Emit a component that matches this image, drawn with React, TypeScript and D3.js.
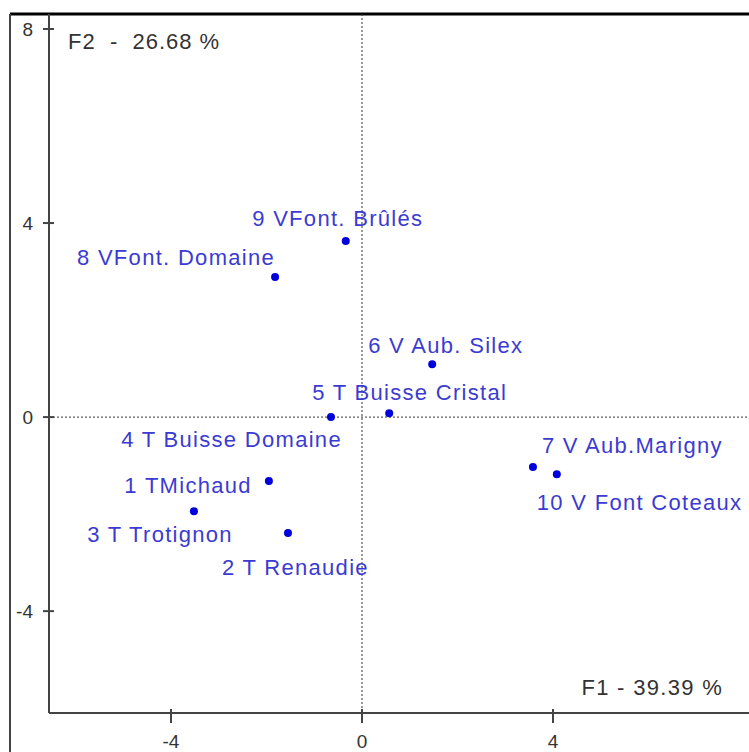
import React from 'react';
import * as d3 from 'd3';

// observations (PCA scores)
const names = [
  '1 TMichaud', '2 T Renaudie', '3 T Trotignon', '4 T Buisse Domaine', '5 T Buisse Cristal',
  '6 V Aub. Silex', '7 V Aub.Marigny', '8 VFont. Domaine', '9 VFont. Brûlés', '10 V Font Coteaux',
];
const f1 = [-1.95, -1.55, -3.52, -0.65, 0.57, 1.47, 3.58, -1.82, -0.34, 4.08];
const f2 = [-1.32, -2.39, -1.94, 0.0, 0.08, 1.09, -1.03, 2.89, 3.63, -1.18];

const xTicks = [-4, 0, 4];
const yTicks = [-4, 0, 4, 8];

const xTitle = 'F1 - 39.39 %';
const yTitle = 'F2  -  26.68 %';

// label placement relative to each point: [anchor, dx, dy]
const labelPlace: [string, number, number][] = [
  ['end', -17, 12],
  ['start', -66, 42],
  ['end', 39, 31],
  ['end', 11, 30],
  ['start', -77, -13],
  ['start', -64, -11],
  ['start', 9, -14],
  ['end', 0, -12],
  ['middle', -8, -15],
  ['start', -20, 36],
];

const App = () => {
  const width = 749;
  const height = 752;
  const left = 49;
  const top = 14;
  const bottom = 713;
  const right = 749;

  const xScale = d3.scaleLinear().domain([-6.555, 8.105]).range([left, right]);
  const yScale = d3.scaleLinear().domain([-6.1, 8.0]).range([bottom, 29]);

  const font = 'Liberation Sans, Arial, sans-serif';
  const blue = '#3b3bd2';
  const axisCol = '#444';

  return (
    <div style={{ position: 'absolute', left: 0, top: 0 }}>
      <svg width={width} height={height} style={{ display: 'block', background: '#fff' }}>
        {/* outer frame */}
        <line x1={10} x2={width} y1={top} y2={top} stroke='#000' strokeWidth={3} />
        <line x1={10} x2={10} y1={top} y2={height} stroke={axisCol} strokeWidth={2} />

        {/* zero lines */}
        <line x1={xScale(0)} x2={xScale(0)} y1={top} y2={bottom} stroke='#333' strokeWidth={1} strokeDasharray='2,2' />
        <line x1={left} x2={right} y1={yScale(0)} y2={yScale(0)} stroke='#333' strokeWidth={1} strokeDasharray='2,2' />

        {/* axes */}
        <line x1={left} x2={left} y1={top} y2={bottom} stroke={axisCol} strokeWidth={2} />
        <line x1={left} x2={right} y1={bottom} y2={bottom} stroke={axisCol} strokeWidth={2} />

        {yTicks.map(t => (
          <g key={'y' + t}>
            <line x1={left - 6} x2={left + 5} y1={yScale(t)} y2={yScale(t)} stroke={axisCol} strokeWidth={2} />
            <text x={33} y={yScale(t) + 7} textAnchor='end' fontFamily={font} fontSize={19} fill='#333'>{t}</text>
          </g>
        ))}
        {xTicks.map(t => (
          <g key={'x' + t}>
            <line x1={xScale(t)} x2={xScale(t)} y1={bottom - 4} y2={bottom + 10} stroke={axisCol} strokeWidth={2} />
            <text x={xScale(t)} y={748} textAnchor='middle' fontFamily={font} fontSize={19} fill='#333'>{t}</text>
          </g>
        ))}

        <text x={68} y={49} fontFamily={font} fontSize={22} letterSpacing={1} fill='#333' style={{ whiteSpace: 'pre' }}>{yTitle}</text>
        <text x={723} y={695} textAnchor='end' fontFamily={font} fontSize={22} letterSpacing={1.3} fill='#333' style={{ whiteSpace: 'pre' }}>{xTitle}</text>

        {names.map((n, i) => (
          <g key={n}>
            <circle cx={xScale(f1[i])} cy={yScale(f2[i])} r={4} fill='#0000dd' />
            <text
              x={xScale(f1[i]) + labelPlace[i][1]}
              y={yScale(f2[i]) + labelPlace[i][2]}
              textAnchor={labelPlace[i][0] as any}
              fontFamily={font}
              fontSize={22}
              letterSpacing={1.3}
              fill={blue}
            >{n}</text>
          </g>
        ))}
      </svg>
    </div>
  );
};

export default App;
